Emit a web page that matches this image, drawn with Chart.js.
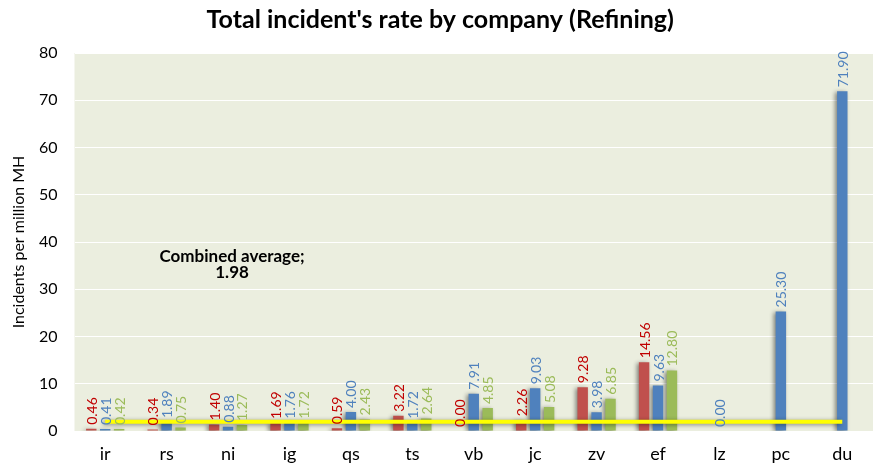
<!DOCTYPE html>
<html>
<head>
<meta charset="utf-8">
<script src="https://cdn.jsdelivr.net/npm/chart.js@4.4.1/dist/chart.umd.min.js"></script>
<style>
    html, body { margin: 0; padding: 0; background: #ffffff; }
    #wrap { width: 873px; height: 463px; }
</style>
</head>
<body>
<div id="wrap"><canvas id="canvas" width="873" height="463"></canvas></div>
<script>
// companies on the x axis
const companies = ['ir', 'rs', 'ni', 'ig', 'qs', 'ts', 'vb', 'jc', 'zv', 'ef', 'lz', 'pc', 'du'];

// incident rates per series (null = no bar)
const redSeries   = [0.46, 0.34, 1.40, 1.69, 0.59, 3.22, 0.00, 2.26, 9.28, 14.56, null, null, null];
const blueSeries  = [0.41, 1.89, 0.88, 1.76, 4.00, 1.72, 7.91, 9.03, 3.98, 9.63, 0.00, 25.30, 71.90];
const greenSeries = [0.42, 0.75, 1.27, 1.72, 2.43, 2.64, 4.85, 5.08, 6.85, 12.80, null, null, null];

// combined average line
const averageLine = [1.98, 1.98, 1.98, 1.98, 1.98, 1.98, 1.98, 1.98, 1.98, 1.98, 1.98, 1.98, 1.98];
const averageNote = ['Combined average;', '1.98'];

const yTicks = [0, 10, 20, 30, 40, 50, 60, 70, 80];

const FONT = 'Lato, "Open Sans", sans-serif';

const plotBackground = {
    id: 'plotBackground',
    beforeDraw(chart) {
        const a = chart.chartArea;
        const ctx = chart.ctx;
        ctx.save();
        ctx.fillStyle = '#EBEEDF';
        ctx.fillRect(a.left, a.top, a.right - a.left, a.bottom - a.top);
        ctx.restore();
    }
};

// excel style drop shadow behind bars and line
const shadows = {
    id: 'shadows',
    beforeDatasetDraw(chart) {
        const ctx = chart.ctx;
        ctx.save();
        ctx.shadowColor = 'rgba(0,0,0,0.45)';
        ctx.shadowBlur = 4;
        ctx.shadowOffsetX = -2;
        ctx.shadowOffsetY = 1;
    },
    afterDatasetDraw(chart) {
        chart.ctx.restore();
    }
};

// rotated value labels above bars
const valueLabels = {
    id: 'valueLabels',
    afterDatasetsDraw(chart) {
        const ctx = chart.ctx;
        ctx.save();
        ctx.font = '14px ' + FONT;
        ctx.textAlign = 'left';
        ctx.textBaseline = 'middle';
        chart.data.datasets.forEach((ds, i) => {
            if(ds.type === 'line') return;
            const meta = chart.getDatasetMeta(i);
            meta.data.forEach((bar, j) => {
                const v = ds.data[j];
                if(v === null || v === undefined) return;
                ctx.save();
                ctx.translate(bar.x, bar.y - 4);
                ctx.rotate(-Math.PI / 2);
                ctx.fillStyle = ds.labelColor;
                ctx.fillText(v.toFixed(2), 0, 1);
                ctx.restore();
            });
        });

        // average note
        const xs = chart.scales.x;
        const ys = chart.scales.y;
        ctx.font = 'bold 17px ' + FONT;
        ctx.fillStyle = '#000000';
        ctx.textAlign = 'center';
        const nx = xs.getPixelForValue(2) + 4;
        ctx.fillText(averageNote[0], nx, ys.getPixelForValue(37));
        ctx.fillText(averageNote[1], nx, ys.getPixelForValue(33.6));
        ctx.restore();
    }
};

const ctx = document.getElementById('canvas').getContext('2d');

window.chart = new Chart(ctx, {
    type: 'bar',
    data: {
        labels: companies,
        datasets: [
            {
                type: 'line',
                label: 'Combined average',
                data: averageLine,
                borderColor: '#FFFF00',
                borderWidth: 4,
                pointRadius: 0,
                fill: false,
                order: 0
            },
            {
                label: 'Red',
                data: redSeries,
                backgroundColor: '#C0504D',
                labelColor: '#C00000',
                order: 1
            },
            {
                label: 'Blue',
                data: blueSeries,
                backgroundColor: '#4F81BD',
                labelColor: '#4F81BD',
                order: 1
            },
            {
                label: 'Green',
                data: greenSeries,
                backgroundColor: '#9BBB59',
                labelColor: '#9BBB59',
                order: 1
            }
        ]
    },
    options: {
        responsive: false,
        animation: false,
        layout: {
            padding: { left: 0, right: -7.5, top: 0, bottom: 0 }
        },
        datasets: {
            bar: {
                categoryPercentage: 0.68,
                barPercentage: 0.75,
                skipNull: false
            }
        },
        plugins: {
            legend: { display: false },
            tooltip: { enabled: false },
            title: {
                display: true,
                text: "Total incident's rate by company (Refining)",
                color: '#000000',
                font: { family: FONT, size: 25, weight: 'bold' },
                padding: { top: 5, bottom: 18 }
            }
        },
        scales: {
            x: {
                grid: { display: false, drawTicks: false },
                border: { display: false },
                ticks: {
                    color: '#000000',
                    font: { family: FONT, size: 18 },
                    padding: 12
                },
                afterFit(scale) { scale.height = 32; }
            },
            y: {
                min: 0,
                max: 80,
                afterBuildTicks(scale) {
                    scale.ticks = yTicks.map(v => ({ value: v }));
                },
                grid: { color: '#FFFFFF', lineWidth: 1, drawTicks: false },
                border: { display: false },
                ticks: {
                    color: '#000000',
                    font: { family: FONT, size: 16 },
                    padding: 17
                },
                title: {
                    display: true,
                    text: 'Incidents per million MH',
                    color: '#000000',
                    font: { family: FONT, size: 16 },
                    padding: { top: 9, bottom: 0 }
                },
                afterFit(scale) { scale.width = 74.5; }
            }
        }
    },
    plugins: [plotBackground, shadows, valueLabels]
});
</script>
</body>
</html>
